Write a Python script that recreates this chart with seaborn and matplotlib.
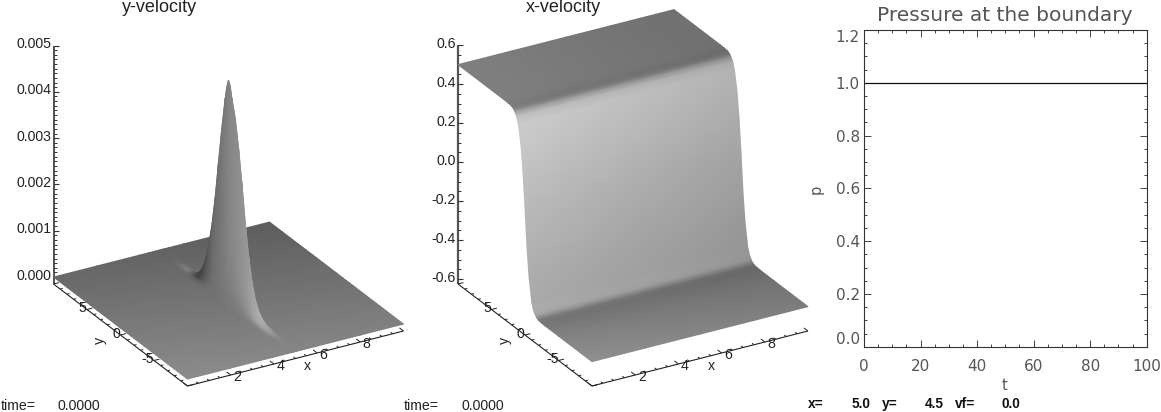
"""Three panel flow snapshot: two shaded surfaces and the boundary pressure trace."""
import matplotlib
matplotlib.use("Agg")
import matplotlib.pyplot as plt
import numpy as np
import pandas as pd
import seaborn as sns

W, H = 1161, 412

# y-velocity surface: v(x, y) = ridge_x(x) * ridge_y(y)
vy_x = [10, 8, 6, 5.6, 5.4, 5.3, 5.2, 5.15, 5.1, 5.05, 5.0, 4.95, 4.9, 4.85, 4.8, 4.7, 4.6, 4.4, 4, 2, 0]
vy_ridge_x = [0, 0, 0, 0, 0.002, 0.01, 0.05, 0.12, 0.3, 0.65, 1, 0.65, 0.3, 0.12, 0.05, 0.01, 0.002, 0, 0, 0, 0]
vy_y = [10, 8, 7, 6.5, 6, 5.5, 5, 4.5, 4, 3.5, 3, 2.5, 2, 1.5, 1, 0.5, 0.25, 0, -0.25, -0.5, -1, -1.5,
        -2, -2.5, -3, -3.5, -4, -4.5, -5, -5.5, -6, -6.5, -7, -7.5, -10]
vy_ridge_y = [0, 0, 0, 0.002e-3, 0.005e-3, 0.015e-3, 0.04e-3, 0.10e-3, 0.23e-3, 0.46e-3, 0.82e-3,
              1.32e-3, 1.98e-3, 2.8e-3, 3.6e-3, 4.3e-3, 4.58e-3, 4.76e-3, 4.66e-3, 4.42e-3, 4.05e-3,
              3.45e-3, 2.75e-3, 1.95e-3, 1.28e-3, 0.78e-3, 0.45e-3, 0.26e-3, 0.16e-3, 0.09e-3,
              0.05e-3, 0.025e-3, 0.01e-3, 0.003e-3, 0]

# x-velocity surface: u depends on y only
vx_x = [10, 7.5, 5, 2.5, 0]
vx_y = [10, 5, 3, 2.5, 2, 1.7, 1.5, 1.25, 1, 0.6, 0.3, 0, -0.3, -0.6, -1, -1.25, -1.5, -1.7, -2, -2.5, -3, -5, -10]
vx_u = [0.5, 0.5, 0.5, 0.499, 0.497, 0.49, 0.48, 0.463, 0.43, 0.33, 0.2, 0.03, -0.17, -0.31, -0.43,
        -0.463, -0.48, -0.49, -0.497, -0.499, -0.5, -0.5, -0.5]

# pressure at the boundary
t_vals = [0, 100]
p_vals = [1.0, 1.0]

# grey levels of the shading, one per y station
vy_tone = [0, 0, 14, 20, 20, 6, -20, -38, -42, -32, -22, -12, -5, 0, 3, 8, 10, 13, 16, 18, 20, 22,
           25, 28, 32, 36, 42, 48, 48, 42, 34, 26, 14, 5, 0]
vy_weight = [0, 0, 0, 0, 0, 0, 0.1, 0.3, 0.6, 0.9, 1, 1, 0.9, 0.6, 0.3, 0.1, 0, 0, 0, 0, 0]
vx_tone = [128, 128, 127, 125, 122, 130, 160, 192, 204, 200, 194, 186, 179, 173, 170, 172, 168, 148,
           122, 118, 120, 130, 143]

TICK_FONT = "Liberation Sans"
INK = "#222222"
SOFT = "#555555"

sns.set_theme(style="ticks")
plt.rcParams["font.family"] = [TICK_FONT, "DejaVu Sans"]

fig = plt.figure(figsize=(W / 100, H / 100), dpi=100, facecolor="white")
ax = fig.add_axes([0, 0, 1, 1])
ax.set_xlim(0, W)
ax.set_ylim(H, 0)
ax.axis("off")


def make_proj(x0, y0, zmin, zscale):
    # parallel projection of the IDL box: x runs 0..10, y runs 10..-10
    def proj(x, y, z):
        x = np.asarray(x, dtype=float)
        y = np.asarray(y, dtype=float)
        z = np.asarray(z, dtype=float)
        f = (10 - y) / 20
        return (x0 + 21.6 * x + 134 * f,
                y0 - 5.5 * x + 102 * f - (z - zmin) * zscale)
    return proj


def seg(p0, p1, lw=0.8, color=INK):
    ax.plot([p0[0], p1[0]], [p0[1], p1[1]], color=color, lw=lw, solid_capstyle="butt")


def draw_box(proj, zmin, zmaj, zlabels, zminor, ztop, zlw, zcolor):
    # z axis
    seg(proj(0, 10, zmin), proj(0, 10, ztop), lw=zlw, color=zcolor)
    for z in zminor:
        px, py = proj(0, 10, z)
        seg((px, py), (px + 3, py), color="#333333", lw=0.7)
    for z, lab in zip(zmaj, zlabels):
        px, py = proj(0, 10, z)
        seg((px, py), (px + 5, py), color="#333333", lw=0.8)
        ax.text(px - 2, py - 1.5, lab, ha="right", va="center", fontsize=10.2, color=INK)
    # y axis
    seg(proj(0, 10, zmin), proj(0, -10, zmin))
    for y in np.arange(-10, 11, 1):
        px, py = proj(0, y, zmin)
        tx, ty = proj(0.12 if y % 5 else 0.25, y, zmin)
        seg((px, py), (tx, ty), lw=0.7)
    for y in [5, 0, -5]:
        px, py = proj(0, y, zmin)
        ax.text(px - (6 if y < 0 else 4.5), py - 1.5, str(y), ha="center", va="center", fontsize=10.2, color=INK)
    # x axis
    seg(proj(0, -10, zmin), proj(10, -10, zmin))
    for x in np.arange(0, 10.01, 0.5):
        px, py = proj(x, -10, zmin)
        tx, ty = proj(x, -9.7 if x % 2 else -9.4, zmin)
        seg((px, py), (tx, ty), lw=0.7)
    for x in [2, 4, 6, 8]:
        px, py = proj(x, -10, zmin)
        ax.text(px + 6.5, py + 2, str(x), ha="center", va="center", fontsize=10.2, color=INK)


# ---- y-velocity ----
vy_proj = make_proj(53.5, 284, -0.00015, 46300)
draw_box(vy_proj, -0.00015, [0, 0.001, 0.002, 0.003, 0.004, 0.005],
         ["0.000", "0.001", "0.002", "0.003", "0.004", "0.005"],
         np.arange(0, 0.00501, 0.0001), 0.005, 1.3, "#444444")
xg, yg = np.meshgrid(vy_x, vy_y)
vy_z = np.outer(vy_ridge_y, vy_ridge_x)
sx, sy = vy_proj(xg, yg, vy_z)
ground = 105 + 35 * (10 - yg) / 20 - 1.2 * xg
shade = ground + np.outer(vy_tone, vy_weight)
ax.pcolormesh(sx, sy, shade, shading="gouraud", cmap="gray", vmin=0, vmax=255, zorder=3)

# ---- x-velocity ----
vx_proj = make_proj(458, 284, -0.625, 195)
draw_box(vx_proj, -0.625, [0.6, 0.4, 0.2, 0.0, -0.2, -0.4, -0.6],
         ["0.6", "0.4", "0.2", "0.0", "-0.2", "-0.4", "-0.6"],
         np.arange(-0.6, 0.601, 0.05), 0.6, 1.6, "#555555")
xg, yg = np.meshgrid(vx_x, vx_y)
vx_z = np.tile(np.asarray(vx_u)[:, None], (1, len(vx_x)))
sx, sy = vx_proj(xg, yg, vx_z)
shade = np.outer(vx_tone, 1 - 0.012 * np.asarray(vx_x))
ax.pcolormesh(sx, sy, shade, shading="gouraud", cmap="gray", vmin=0, vmax=255, zorder=3)

# ---- labels on the surface panels ----
ax.text(159, 7, "y-velocity", ha="center", va="center", fontsize=13, color=INK)
ax.text(563, 7, "x-velocity", ha="center", va="center", fontsize=13, color=INK)
for off in (0, 404.5):
    ax.text(307 + off, 365.7, "x", ha="center", va="center", fontsize=10.2, color=INK)
    ax.text(100 + off, 340, "y", ha="center", va="center", fontsize=10.2, color=INK, rotation=90)
ax.text(1, 406, "time=", va="center", fontsize=10.2, color=INK)
ax.text(58, 406, "0.0000", va="center", fontsize=10.2, color=INK)
ax.text(404, 406, "time=", va="center", fontsize=10.2, color=INK)
ax.text(462, 406, "0.0000", va="center", fontsize=10.2, color=INK)
for px, lab in [(808, "x="), (852, "5.0"), (882, "y="), (925, "4.5"), (955, "vf="), (1002, "0.0")]:
    ax.text(px, 404, lab, va="center", fontsize=9.8, fontweight="bold", color="#111111")

# ---- pressure panel ----
l, r, t, b = 864, 1146.7, 30, 346.7
pax = fig.add_axes([l / W, 1 - b / H, (r - l) / W, (b - t) / H])
df = pd.DataFrame({"t": t_vals, "p": p_vals})
sns.lineplot(data=df, x="t", y="p", estimator=None, color="#111111", lw=0.9, ax=pax)
pax.set_xlim(0, 100)
pax.set_ylim(0, 1.2)
pax.set_xticks(np.arange(0, 101, 20))
pax.set_xticks(np.arange(0, 101, 5), minor=True)
pax.set_yticks(np.arange(0, 1.21, 0.2))
pax.set_yticks(np.arange(0, 1.21, 0.05), minor=True)
pax.tick_params(which="both", direction="in", top=True, right=True, color="#444444", width=0.7)
pax.tick_params(which="major", length=5, labelsize=11, labelcolor=SOFT)
pax.tick_params(which="minor", length=2.5)
pax.tick_params(axis="x", which="major", pad=9)
pax.tick_params(axis="y", which="major", pad=3)
pax.set_xticklabels([str(v) for v in range(0, 101, 20)], family="DejaVu Sans")
ylabs = pax.set_yticklabels([f"{v:.1f}" for v in np.arange(0, 1.21, 0.2)], family="DejaVu Sans")
ylabs[0].set_va("bottom")
ylabs[-1].set_va("top")
pax.set_xlabel("")
pax.set_ylabel("")
for sp in pax.spines.values():
    sp.set_linewidth(0.8)
    sp.set_color("#333333")
ax.text(1005, 15, "Pressure at the boundary", ha="center", va="center", fontsize=14.5,
        family="DejaVu Sans", color=SOFT)
ax.text(1005, 385, "t", ha="center", va="center", fontsize=10.5, family="DejaVu Sans", color=SOFT)
ax.text(816, 189, "p", ha="center", va="center", fontsize=10.5, rotation=90, family="DejaVu Sans", color=SOFT)

fig.savefig("out.png", dpi=100)
